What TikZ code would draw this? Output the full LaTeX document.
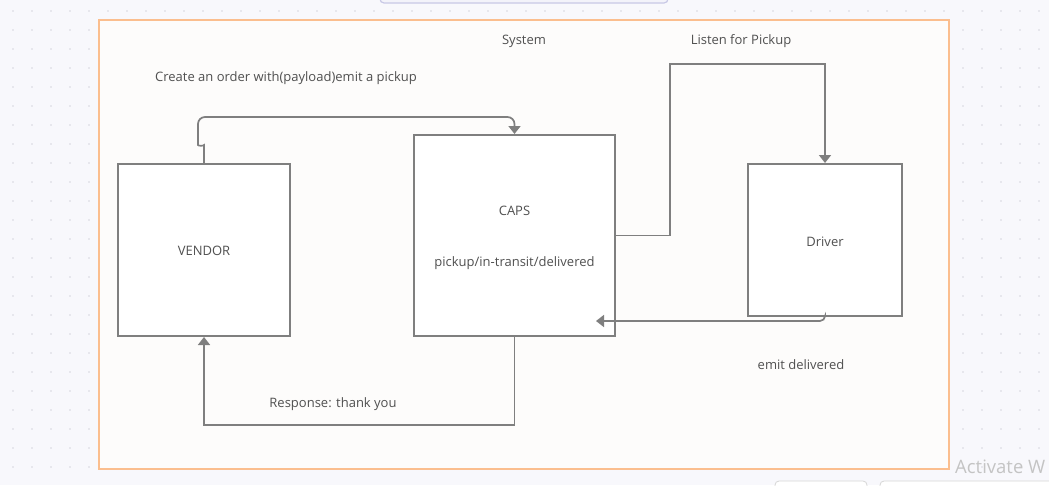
\documentclass[tikz,border=0pt]{standalone}
\usepackage{fontspec}
\setmainfont{Open Sans}
\usetikzlibrary{arrows.meta, positioning}
\definecolor{canvasbg}{HTML}{F8F8FC}
\definecolor{dotgray}{HTML}{D6D6DE}
\definecolor{framefill}{HTML}{FDFCFB}
\definecolor{frameline}{HTML}{FBBE8E}
\definecolor{boxline}{HTML}{7F7F7F}
\definecolor{labelgray}{HTML}{505050}
\definecolor{barline}{HTML}{C8C8E6}
\definecolor{barfill}{HTML}{F3F3FA}
\definecolor{winmark}{HTML}{C4C4C4}

\begin{document}
\begin{tikzpicture}[x=1pt,y=-1pt,>={Triangle[length=8pt,width=12pt]},
      every node/.style={font=\fontsize{13}{15}\selectfont,text=labelgray,inner sep=0pt},
      block/.style={draw=boxline,line width=2pt,fill=white},
      link/.style={draw=boxline,line width=1.7pt,->}]
      \useasboundingbox (0,0) rectangle (1049,485);
      \fill[canvasbg] (0,0) rectangle (1049,485);
      \foreach \x in {13,32,...,1049}
        \foreach \y in {11,30,...,485}
          \fill[dotgray] (\x,\y) circle (0.9pt);
      \draw[barline,fill=barfill,line width=1.2pt,rounded corners=4pt] (380,-20) rectangle (668,3);
      \draw[winmark!70,fill=white,line width=0.8pt,rounded corners=4pt] (775,481) rectangle (867,500);
      \draw[winmark!70,fill=white,line width=0.8pt,rounded corners=4pt] (880,481) rectangle (1060,500);
      \draw[frameline,fill=framefill,line width=2pt] (99,20) rectangle (949,469);
      \node[text=winmark,font=\fontsize{18.5}{22}\selectfont,anchor=west] (mark) at (955,467) {Activate W};

      \node[block,minimum width=172pt,minimum height=172pt] (vendor) at (204,250) {};
      \node[block,minimum width=201pt,minimum height=201pt] (caps) at (514.5,235.5) {};
      \node[block,minimum width=154pt,minimum height=152pt] (driver) at (825,240) {};
      \node (vendorlbl) at (204,251) {VENDOR};
      \node (capslbl) at (514.5,211) {CAPS};
      \node (statelbl) at (514.5,263) {pickup/in-transit/delivered};
      \node (driverlbl) at (825,242) {Driver};
      \node (systemlbl) at (524,41) {System};
      \node (listenlbl) at (741,41) {Listen for Pickup};
      \node (createlbl) at (286,78) {Create an order with(payload)emit a pickup};
      \node (emitlbl) at (801,365) {emit delivered};
      \node (resplbl) at (333,404) {Response: thank you};
      \coordinate (deliv) at (596,321);

      \draw[link,rounded corners=7pt] (vendor.north) -- (204,152)
        .. controls (204,146) and (198,146) .. (198,138) -- (198,117) -- (514.5,117) -- (caps.north);
      \draw[link] (caps.east) -| (670,64) -| (driver.north);
      \draw[link,rounded corners=5pt] (driver.south) |- (deliv);
      \draw[link] (caps.south) |- (204,425) -- (vendor.south);
    \end{tikzpicture}
\end{document}
